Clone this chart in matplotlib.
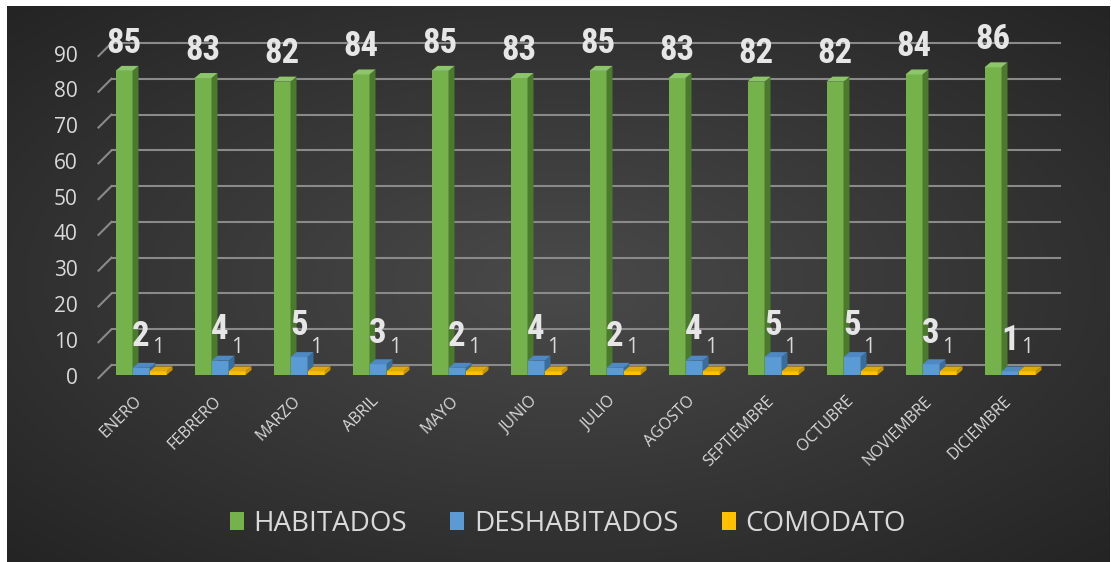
import numpy as np
import matplotlib
matplotlib.use('Agg')
import matplotlib.pyplot as plt
from matplotlib.patches import Polygon, Patch

# ---- data ----
months = ['ENERO', 'FEBRERO', 'MARZO', 'ABRIL', 'MAYO', 'JUNIO', 'JULIO',
          'AGOSTO', 'SEPTIEMBRE', 'OCTUBRE', 'NOVIEMBRE', 'DICIEMBRE']
habitados = [85, 83, 82, 84, 85, 83, 85, 83, 82, 82, 84, 86]
deshabitados = [2, 4, 5, 3, 2, 4, 2, 4, 5, 5, 3, 1]
comodato = [1, 1, 1, 1, 1, 1, 1, 1, 1, 1, 1, 1]
series_names = ['HABITADOS', 'DESHABITADOS', 'COMODATO']
y_ticks = [0, 10, 20, 30, 40, 50, 60, 70, 80, 90]

W, H = 1111, 562
fig = plt.figure(figsize=(W / 100, H / 100), dpi=100)
fig.patch.set_facecolor('white')

# ---- background panel with radial gradient ----
bg = fig.add_axes([7 / W, 0, (W - 8) / W, (H - 6) / H])
ny, nx = 300, 600
yy, xx = np.mgrid[-1:1:ny * 1j, -1:1:nx * 1j]
r = np.sqrt(xx ** 2 + yy ** 2) / np.sqrt(2)
c = (0x4a - (0x4a - 0x24) * r) / 255
bg.imshow(np.dstack([c, c, c]), aspect='auto', extent=[0, 1, 0, 1],
          interpolation='bilinear')
bg.axis('off')

# ---- main axes (bar plane) ----
ax = fig.add_axes([101.5 / W, (H - 375) / H, 948 / W, (375 - 53) / H])
ax.set_xlim(-0.5, len(months) - 0.5)
ax.set_ylim(0, 90)
ax.axis('off')

sx = ax.bbox.width / len(months)   # px per x unit
sy = ax.bbox.height / 90.0          # px per y unit

grid_col = '#8a8a8a'
txt_col = '#d9d9d9'
back = (10 / sx, 10 / sy)
front = (-3 / sx, -3 / sy)
x0, x1 = ax.get_xlim()
for t in y_ticks:
    ax.plot([x0 + back[0], x1 + back[0]], [t + back[1], t + back[1]],
            color=grid_col, lw=1.5, clip_on=False, zorder=1)
    ax.plot([x0 + front[0], x0 + back[0]], [t + front[1], t + back[1]],
            color=grid_col, lw=1.5, clip_on=False, zorder=1)
    ax.annotate(str(t), xy=(x0 + front[0], t + front[1]), xytext=(-15, 0),
                textcoords='offset points', ha='right', va='center',
                fontsize=15, color=txt_col, family='Open Sans',
                annotation_clip=False)

# ---- 3D-ish bars ----
bw = 17 / sx
ddx, ddy = 6 / sx, 5 / sy
styles = [
    ('#76b24c', '#4b7a2e', '#8dc66a'),
    ('#5b9bd5', '#3b6d9c', '#4f88c2'),
    ('#ffc000', '#c99500', '#e2a900'),
]
series = [habitados, deshabitados, comodato]
offsets = [-bw, 0.0, bw]
xs = np.arange(len(months))
for k, (vals, off, (cf, cs, ct)) in enumerate(zip(series, offsets, styles)):
    z = 3 + k
    xc = xs + off
    ax.bar(xc, vals, width=bw, color=cf, zorder=z, clip_on=False)
    for xi, v in zip(xc, vals):
        xl, xr = xi - bw / 2, xi + bw / 2
        ax.add_patch(Polygon([(xr, 0), (xr + ddx, ddy), (xr + ddx, v + ddy), (xr, v)],
                             closed=True, facecolor=cs, edgecolor='none',
                             zorder=z, clip_on=False))
        ax.add_patch(Polygon([(xl, v), (xr, v), (xr + ddx, v + ddy), (xl + ddx, v + ddy)],
                             closed=True, facecolor=ct, edgecolor='none',
                             zorder=z, clip_on=False))

# ---- data labels ----
big_font = dict(family=['Roboto Condensed', 'DejaVu Sans'], weight='bold',
                stretch='condensed', fontsize=25, color='#e6e6e6')
for xi, v in zip(xs + offsets[0], habitados):
    ax.annotate(str(v), xy=(xi, v), xytext=(0, 20), textcoords='offset points',
                ha='center', va='center', zorder=10, annotation_clip=False, **big_font)
for xi, v in zip(xs + offsets[1], deshabitados):
    ax.annotate(str(v), xy=(xi, v), xytext=(0, 22.5), textcoords='offset points',
                ha='center', va='center', zorder=10, annotation_clip=False, **big_font)
for xi, v in zip(xs + offsets[2], comodato):
    ax.annotate(str(v), xy=(xi, v), xytext=(0, 17), textcoords='offset points',
                ha='center', va='center', zorder=10, annotation_clip=False,
                fontsize=15, color=txt_col, family='Open Sans')

# ---- category labels ----
for xi, m in zip(xs, months):
    ax.annotate(m, xy=(xi, 0), xytext=(-5, -13), textcoords='offset points',
                ha='right', va='top', rotation=45, rotation_mode='anchor',
                fontsize=11.5, color=txt_col, family='Open Sans',
                annotation_clip=False)

# ---- legend ----
handles = [Patch(facecolor=s[0], edgecolor='none') for s in styles]
fig.legend(handles, series_names, loc='center', bbox_to_anchor=(568 / W, 1 - 524 / H),
           ncol=3, frameon=False, prop=dict(family='Open Sans', size=20),
           labelcolor=txt_col, handlelength=0.5, handleheight=0.6,
           handletextpad=0.36, columnspacing=1.55)

fig.savefig('out.png', dpi=100, facecolor='white')
